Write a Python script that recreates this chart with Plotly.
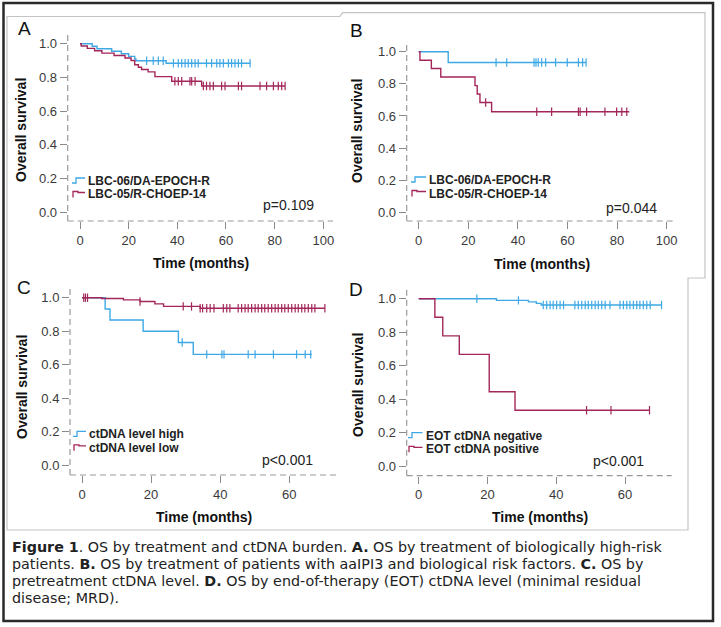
import plotly.graph_objects as go

W, H = 721, 627
BLUE = "#3EA8E5"
RED = "#A3265A"
FONT = "Arial, Liberation Sans, sans-serif"
CAPFONT = "DejaVu Sans, Arial, sans-serif"

# ---------------- DATA ----------------
# Panel A
a_blue_t = [5, 7, 13, 17, 20, 22.5, 23, 35.4]
a_blue_s = [0.985, 0.97, 0.955, 0.94, 0.925, 0.91, 0.899, 0.884]
a_blue_end = 70
a_blue_cens = [27.4, 30.1, 32.2, 34.2, 38.4, 40.4, 41.8, 43.2, 44.5, 45.9, 47.3, 48.6,
               52, 54.1, 56.2, 57.5, 58.9, 61, 62.3, 63.7, 65.1, 66.4, 69.9]
a_red_t = [0.5, 3, 6, 9, 14, 18.5, 21, 22.5, 24, 25.3, 28, 30.8, 37.7, 50]
a_red_s = [0.986, 0.972, 0.958, 0.944, 0.93, 0.915, 0.9, 0.875, 0.86, 0.847, 0.833, 0.805, 0.777, 0.749]
a_red_end = 84.3
a_red_cens = [39, 40.4, 41.8, 45.2, 45.9, 47.3, 50.7, 52, 53.4, 54.8, 58.2, 59.6,
              65.1, 66.4, 74, 76.7, 79.5, 81.5, 82.9, 84.3]

# Panel B
b_blue_t = [11.9]
b_blue_s = [0.933]
b_blue_end = 67.5
b_blue_cens = [31.2, 35.5, 46.5, 47.3, 48.2, 49.6, 51.2, 55.2, 59.9, 64.4, 66.1, 67.5]
b_red_t = [0.5, 5.1, 8.9, 22.7, 23.6, 24.7, 29.4]
b_red_s = [0.947, 0.895, 0.842, 0.789, 0.737, 0.684, 0.626]
b_red_end = 84.9
b_red_cens = [27, 47.6, 53.6, 64.4, 65.1, 67.7, 75.1, 79.8, 81.9, 83.9]

# Panel C
c_blue_t = [6.7, 8.1, 17.7, 27.9, 32.2]
c_blue_s = [0.933, 0.867, 0.80, 0.733, 0.662]
c_blue_end = 66.5
c_blue_cens = [29, 36.1, 40.5, 41.1, 48.1, 50.1, 55.4, 62.1, 64.6, 66.2]
c_red_t = [5.7, 12, 16.8, 21.1, 23.6, 34.2]
c_red_s = [0.995, 0.987, 0.977, 0.963, 0.948, 0.937]
c_red_end = 70.3
c_red_cens = [0.5, 1.0, 1.6, 16.8, 29.3, 31.7, 34.2, 34.9, 36.1, 37.1, 38.2, 40.9, 41.9,
              42.8, 45.2, 46.2, 47.2, 48.1, 49.1, 50.1, 51, 52, 52.9, 53.9, 54.9, 55.9,
              56.8, 57.8, 58.7, 59.7, 60.7, 61.7, 62.6, 63.6, 64.5, 65.5, 66.5, 67.4, 70.3]

# Panel D
d_blue_t = [22.6, 31.9, 34.2, 35.6]
d_blue_s = [0.99, 0.981, 0.972, 0.962]
d_blue_end = 70.6
d_blue_cens = [16.9, 29, 36.2, 37.2, 38.2, 39.1, 40.1, 41.1, 42.1, 45.4, 46.4, 47.4, 48.4,
               49.3, 50.3, 51.3, 52.2, 53.2, 54.2, 55.6, 58.5, 59.5, 60.5, 61.4, 62.4,
               63.4, 64.3, 65.3, 66.3, 67.3, 70.6]
d_red_t = [4.7, 7.0, 11.8, 20.5, 28.0]
d_red_s = [0.889, 0.778, 0.667, 0.444, 0.333]
d_red_end = 67.2
d_red_cens = [48.8, 55.9, 67.1]

x_ticks_ab = [0, 20, 40, 60, 80, 100]
x_ticks_cd = [0, 20, 40, 60]
y_ticks = [0.0, 0.2, 0.4, 0.6, 0.8, 1.0]

panels = [
    dict(letter="A", blue=(a_blue_t, a_blue_s, a_blue_end, a_blue_cens),
         red=(a_red_t, a_red_s, a_red_end, a_red_cens),
         labels=["LBC-06/DA-EPOCH-R", "LBC-05/R-CHOEP-14"], p="p=0.109", xt=x_ticks_ab),
    dict(letter="B", blue=(b_blue_t, b_blue_s, b_blue_end, b_blue_cens),
         red=(b_red_t, b_red_s, b_red_end, b_red_cens),
         labels=["LBC-06/DA-EPOCH-R", "LBC-05/R-CHOEP-14"], p="p=0.044", xt=x_ticks_ab),
    dict(letter="C", blue=(c_blue_t, c_blue_s, c_blue_end, c_blue_cens),
         red=(c_red_t, c_red_s, c_red_end, c_red_cens),
         labels=["ctDNA level high", "ctDNA level low"], p="p<0.001", xt=x_ticks_cd),
    dict(letter="D", blue=(d_blue_t, d_blue_s, d_blue_end, d_blue_cens),
         red=(d_red_t, d_red_s, d_red_end, d_red_cens),
         labels=["EOT ctDNA negative", "EOT ctDNA positive"], p="p<0.001", xt=x_ticks_cd),
]

# ---------------- LAYOUT GEOMETRY (pixels) ----------------
geom = [
    dict(t0=80, sx=2.433, y1=43.7, y0=212.3, xd=(67.7, 333), yd=(33, 221),
         letter=(24, 29), ytitle=(21, 130), xtitle=(201, 263), p=(288, 205),
         leg=(72, 86, 181, 194.5)),
    dict(t0=418.7, sx=2.48, y1=51.7, y0=212.3, xd=(406.7, 676.7), yd=(43, 221),
         letter=(356, 30), ytitle=(357, 131), xtitle=(542, 264), p=(631, 208),
         leg=(411, 427, 180, 193.5)),
    dict(t0=82, sx=3.455, y1=297.7, y0=465.3, xd=(70, 338), yd=(288, 475),
         letter=(24, 288), ytitle=(22, 387), xtitle=(204, 517), p=(287, 460),
         leg=(73, 87, 434.3, 447.8)),
    dict(t0=418.7, sx=3.44, y1=298.7, y0=466, xd=(406.7, 671.7), yd=(289, 475.7),
         letter=(356, 289), ytitle=(358, 385), xtitle=(540, 517), p=(618, 460.5),
         leg=(408, 423.5, 435.7, 449.3)),
]


def fx(px):
    return px / W


def fy(py):
    return 1 - py / H


def surv_at(t, times, surv):
    s = 1.0
    for ti, si in zip(times, surv):
        if ti <= t:
            s = si
    return s


fig = go.Figure()
annotations = []
shapes = []

for i, (pnl, g) in enumerate(zip(panels, geom)):
    n = "" if i == 0 else str(i + 1)
    xa, ya = "x" + n, "y" + n
    for col, key in ((BLUE, "blue"), (RED, "red")):
        times, surv, tend, cens = pnl[key]
        xs = [0] + list(times) + [tend]
        ys = [1.0] + list(surv) + [surv[-1]]
        fig.add_trace(go.Scatter(x=xs, y=ys, mode="lines", line=dict(color=col, width=1.4, shape="hv"),
                                 xaxis=xa, yaxis=ya, showlegend=False, hoverinfo="skip"))
        fig.add_trace(go.Scatter(x=cens, y=[surv_at(c, times, surv) for c in cens], mode="markers",
                                 marker=dict(symbol="line-ns-open", size=6, color=col,
                                             line=dict(color=col, width=1.2)),
                                 xaxis=xa, yaxis=ya, showlegend=False, hoverinfo="skip"))
    xr = [(g["xd"][0] - g["t0"]) / g["sx"], (g["xd"][1] - g["t0"]) / g["sx"]]
    sy = (g["y0"] - g["y1"])
    yr = [(g["y0"] - g["yd"][1]) / sy, (g["y0"] - g["yd"][0]) / sy]
    common = dict(showgrid=False, zeroline=False, showline=False, ticks="outside", ticklen=7,
                  tickcolor="#8a8a8a", tickwidth=1, automargin=False,
                  tickfont=dict(family=FONT, size=13, color="#3a3a3a"), fixedrange=True)
    fig.layout["xaxis" + n] = dict(domain=[fx(g["xd"][0]), fx(g["xd"][1])], range=xr, anchor=ya,
                                   tickmode="array", tickvals=pnl["xt"],
                                   ticktext=[str(v) for v in pnl["xt"]], **common)
    fig.layout["yaxis" + n] = dict(domain=[fy(g["yd"][1]), fy(g["yd"][0])], range=yr, anchor=xa,
                                   tickmode="array", tickvals=y_ticks,
                                   ticktext=["%.1f" % v for v in y_ticks], **common)
    shapes.append(dict(type="line", xref="paper", yref="paper", x0=fx(g["xd"][0]), x1=fx(g["xd"][1]),
                       y0=fy(g["yd"][1]), y1=fy(g["yd"][1]), line=dict(color="#9a9a9a", width=1.2, dash="6px,4px")))
    shapes.append(dict(type="line", xref="paper", yref="paper", x0=fx(g["xd"][0]), x1=fx(g["xd"][0]),
                       y0=fy(g["yd"][1]), y1=fy(g["yd"][0]), line=dict(color="#9a9a9a", width=1.2, dash="6px,4px")))
    annotations.append(dict(x=fx(g["letter"][0]), y=fy(g["letter"][1]), xref="paper", yref="paper",
                            text=pnl["letter"], showarrow=False, xanchor="center", yanchor="middle",
                            font=dict(family=FONT, size=19, color="#111")))
    annotations.append(dict(x=fx(g["ytitle"][0]), y=fy(g["ytitle"][1]), xref="paper", yref="paper",
                            text="<b>Overall survival</b>", textangle=-90, showarrow=False,
                            xanchor="center", yanchor="middle", font=dict(family=FONT, size=14, color="#111")))
    annotations.append(dict(x=fx(g["xtitle"][0]), y=fy(g["xtitle"][1]), xref="paper", yref="paper",
                            text="<b>Time (months)</b>", showarrow=False,
                            xanchor="center", yanchor="middle", font=dict(family=FONT, size=14, color="#111")))
    annotations.append(dict(x=fx(g["p"][0]), y=fy(g["p"][1]), xref="paper", yref="paper",
                            text=pnl["p"], showarrow=False, xanchor="center", yanchor="middle",
                            font=dict(family=FONT, size=14, color="#222")))
    gx, tx, ly1, ly2 = g["leg"]
    for lbl, ly, col, kind in ((pnl["labels"][0], ly1, BLUE, 0), (pnl["labels"][1], ly2, RED, 1)):
        annotations.append(dict(x=fx(tx), y=fy(ly), xref="paper", yref="paper", text="<b>%s</b>" % lbl,
                                showarrow=False, xanchor="left", yanchor="middle",
                                font=dict(family=FONT, size=12, color="#222")))
        if kind == 0:
            pts = [(gx, ly + 2), (gx + 4, ly + 2), (gx + 4, ly - 3), (tx - 1, ly - 3)]
        else:
            pts = [(gx + 1, ly + 3), (gx + 1, ly - 3), (gx + 6, ly - 3), (gx + 6, ly - 2), (tx - 1, ly - 2)]
        path = "M " + " L ".join("%.5f,%.5f" % (fx(a), fy(b)) for a, b in pts)
        shapes.append(dict(type="path", xref="paper", yref="paper", path=path,
                           line=dict(color=col, width=1.3)))

frame = [(7, 16.5), (340, 16.5), (342.5, 12.7), (705, 12.7), (705, 278), (688, 278), (688, 530), (7, 530)]
shapes.append(dict(type="path", xref="paper", yref="paper",
                   path="M " + " L ".join("%.5f,%.5f" % (fx(a), fy(b)) for a, b in frame) + " Z",
                   line=dict(color="#c4c4c4", width=1.2)))
shapes.append(dict(type="rect", xref="paper", yref="paper", x0=fx(3.5), x1=fx(713), y0=fy(621), y1=fy(3),
                   line=dict(color="#2a2a2a", width=2.5)))

caption = [
    "<b>Figure 1</b>. OS by treatment and ctDNA burden. <b>A.</b> OS by treatment of biologically high-risk",
    "patients. <b>B.</b> OS by treatment of patients with aaIPI3 and biological risk factors. <b>C.</b> OS by",
    "pretreatment ctDNA level. <b>D.</b> OS by end-of-therapy (EOT) ctDNA level (minimal residual",
    "disease; MRD).",
]
cap_y = [547, 564, 581, 598]
for line, cy in zip(caption, cap_y):
    annotations.append(dict(x=fx(10), y=fy(cy), xref="paper", yref="paper", text=line, showarrow=False,
                            xanchor="left", yanchor="middle", font=dict(family=CAPFONT, size=14.3, color="#222")))

fig.update_layout(width=W, height=H, margin=dict(l=0, r=0, t=0, b=0, autoexpand=False), paper_bgcolor="white",
                  plot_bgcolor="white", annotations=annotations, shapes=shapes, showlegend=False)
fig.write_html("out.html", config={"displayModeBar": False},
               post_script="document.body.style.margin='0px';document.body.style.padding='0px';")
